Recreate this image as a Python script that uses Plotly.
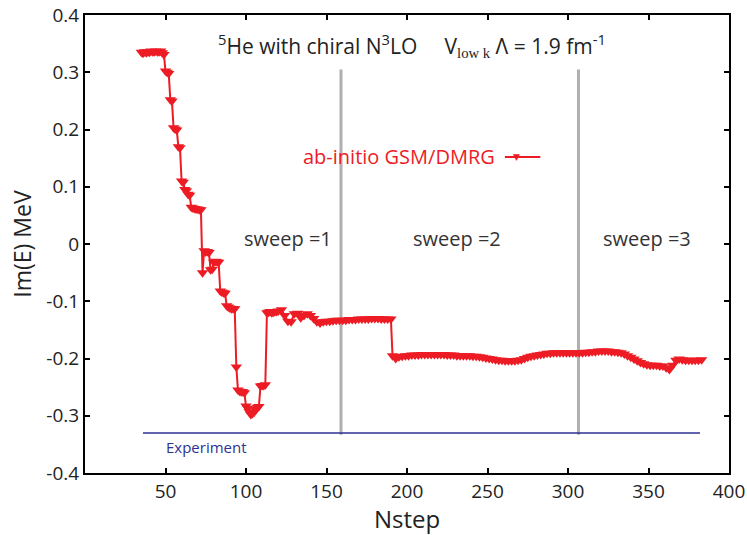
import plotly.graph_objects as go

# GSM/DMRG imaginary part of the energy vs. step number
nstep = list(range(35, 120)) + list(range(120, 191, 2)) + [191] + list(range(193, 384, 2))
im_e = [
    # 35-49
    0.335, 0.333, 0.336, 0.334, 0.336, 0.335, 0.337, 0.336, 0.336, 0.337,
    0.336, 0.336, 0.337, 0.334, 0.331,
    # 50-119
    0.302, 0.300, 0.298, 0.252, 0.250, 0.203, 0.201, 0.199, 0.170, 0.168,
    0.110, 0.108, 0.095, 0.093, 0.087, 0.085, 0.064, 0.063, 0.062, 0.061,
    0.061, 0.060, 0.060, -0.050, -0.012, -0.014, -0.013, -0.015, -0.045, -0.044,
    -0.032, -0.030, -0.031, -0.032, -0.082, -0.084, -0.085, -0.086, -0.108, -0.110,
    -0.112, -0.113, -0.113, -0.113, -0.215, -0.255, -0.257, -0.258, -0.258, -0.260,
    -0.283, -0.287, -0.293, -0.298, -0.296, -0.294, -0.289, -0.285, -0.284, -0.248,
    -0.247, -0.247, -0.246, -0.120, -0.119, -0.118, -0.120, -0.119, -0.118, -0.118,
    # 120-190, every 2
    -0.117, -0.115, -0.125, -0.135, -0.136, -0.122, -0.121, -0.129, -0.125, -0.122,
    -0.125, -0.130, -0.136, -0.138, -0.136, -0.135, -0.135, -0.134, -0.133, -0.133,
    -0.133, -0.133, -0.132, -0.132, -0.132, -0.131, -0.131, -0.131, -0.131, -0.130,
    -0.130, -0.130, -0.131, -0.131, -0.131, -0.131,
    # 191
    -0.195,
    # 193-383, every 2
    -0.200, -0.197, -0.196, -0.195, -0.195, -0.194, -0.194, -0.194, -0.193, -0.193,
    -0.193, -0.193, -0.193, -0.193, -0.193, -0.193, -0.194, -0.194, -0.194, -0.195,
    -0.195, -0.195, -0.195, -0.195, -0.196, -0.196, -0.197, -0.198, -0.199, -0.200,
    -0.201, -0.202, -0.203, -0.203, -0.204, -0.204, -0.204, -0.204, -0.203, -0.202,
    -0.200, -0.198, -0.196, -0.195, -0.194, -0.193, -0.192, -0.191, -0.191, -0.190,
    -0.190, -0.190, -0.190, -0.190, -0.190, -0.190, -0.190, -0.190, -0.190, -0.189,
    -0.189, -0.188, -0.188, -0.187, -0.187, -0.187, -0.187, -0.188, -0.188, -0.189,
    -0.190, -0.192, -0.195, -0.198, -0.201, -0.204, -0.207, -0.209, -0.211, -0.212,
    -0.212, -0.212, -0.213, -0.213, -0.216, -0.219, -0.212, -0.203, -0.201, -0.202,
    -0.203, -0.203, -0.203, -0.203, -0.203, -0.202,
]

exp_value = -0.33
exp_range = [36, 382]

sweep_bounds = [159, 306.5]
sweep_span = [-0.333, 0.305]
sweep_labels = ['sweep =1', 'sweep =2', 'sweep =3']
sweep_label_x = [126, 231, 349]

x_ticks = [50, 100, 150, 200, 250, 300, 350, 400]
y_ticks = [-0.4, -0.3, -0.2, -0.1, 0, 0.1, 0.2, 0.3, 0.4]
y_ticktext = ['-0.4', '-0.3', '-0.2', '-0.1', '0', '0.1', '0.2', '0.3', '0.4']

RED = '#ED1C24'
BLUE = '#2E3192'
FONT = 'Open Sans'

fig = go.Figure()

# sweep separators
for xb in sweep_bounds:
    fig.add_trace(go.Scatter(
        x=[xb, xb], y=sweep_span, mode='lines',
        line=dict(color='rgb(175,175,175)', width=3),
        showlegend=False, hoverinfo='skip',
    ))

# experiment
fig.add_trace(go.Scatter(
    x=exp_range, y=[exp_value, exp_value], mode='lines',
    line=dict(color=BLUE, width=1.5), showlegend=False,
))

# calculation
fig.add_trace(go.Scatter(
    x=nstep, y=im_e, mode='lines+markers',
    line=dict(color=RED, width=2),
    marker=dict(symbol='triangle-down', size=10, color=RED),
    showlegend=False,
))

annotations = [
    dict(x=203, y=0.347, xref='x', yref='y', showarrow=False,
         text='<sup>5</sup>He with chiral N<sup>3</sup>LO     V<sub><span style="font-family:Liberation Serif">low k</span></sub> Λ = 1.9 fm<sup>-1</sup>',
         font=dict(family=FONT, size=21, color='#222')),
    dict(x=49, y=-0.355, xref='x', yref='y', showarrow=False, xanchor='left',
         text='Experiment', font=dict(family=FONT, size=15, color=BLUE)),
    dict(x=0.64, y=0.152, xref='paper', yref='y', showarrow=False, xanchor='right',
         text='ab-initio GSM/DMRG', font=dict(family=FONT, size=20, color=RED)),
    dict(x=0.679, y=0.152, xref='paper', yref='y', showarrow=False,
         text='▼', font=dict(family='DejaVu Sans', size=9, color=RED)),
]
for lab, lx in zip(sweep_labels, sweep_label_x):
    annotations.append(dict(x=lx, y=0.01, xref='x', yref='y', showarrow=False,
                            text=lab, font=dict(family=FONT, size=20, color='#333')))

fig.update_layout(
    width=747, height=535,
    margin=dict(l=85, r=18, t=15, b=62),
    plot_bgcolor='white', paper_bgcolor='white',
    font=dict(family=FONT, size=19, color='#222'),
    hovermode=False,
    annotations=annotations,
    shapes=[dict(type='line', xref='paper', yref='y', x0=0.652, x1=0.707,
                 y0=0.152, y1=0.152, line=dict(color=RED, width=2))],
    xaxis=dict(
        range=[0, 400], tickvals=x_ticks, ticks='inside', ticklen=5,
        tickwidth=1.5, tickcolor='black', showline=True, linecolor='black',
        linewidth=2, mirror='allticks', showgrid=False, zeroline=False,
        automargin=False,
        title=dict(text='Nstep', font=dict(size=24), standoff=0),
        tickfont=dict(size=19),
    ),
    yaxis=dict(
        range=[-0.4, 0.4], tickvals=y_ticks, ticktext=y_ticktext,
        ticks='inside', ticklen=5, tickwidth=1.5, tickcolor='black',
        showline=True, linecolor='black', linewidth=2, mirror='allticks',
        showgrid=False, zeroline=False, automargin=False,
        title=dict(text='Im(E) MeV', font=dict(size=23), standoff=8),
        tickfont=dict(size=19),
    ),
)

fig.write_html("out.html", config={'displayModeBar': False},
               post_script="document.body.style.margin='0';document.body.style.overflow='hidden';")
